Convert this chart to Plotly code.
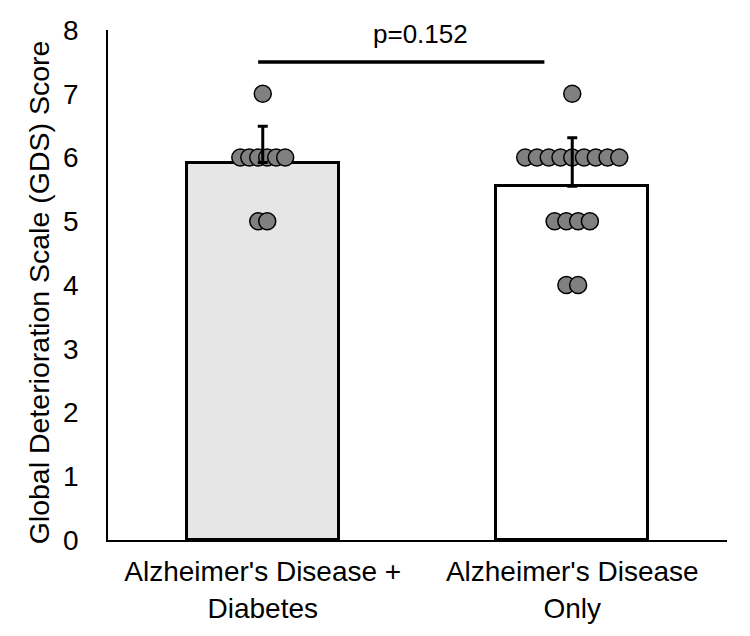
import plotly.graph_objects as go

# ---- data ----
categories = ["Alzheimer's Disease +<br>Diabetes", "Alzheimer's Disease<br>Only"]
bar_means = [5.92, 5.55]
bar_sd = [0.57, 0.76]
points_ad_diabetes = [7, 6, 6, 6, 6, 6, 6, 5, 5]
points_ad_only = [7, 6, 6, 6, 6, 6, 6, 6, 6, 6, 5, 5, 5, 5, 4, 4]
p_label = "p=0.152"
y_ticks = [0, 1, 2, 3, 4, 5, 6, 7, 8]

FONT = "Liberation Sans, Arial, sans-serif"


def swarm(values, center, step):
    """Spread equal values side by side, centred on the category."""
    xs, ys = [], []
    for v in sorted(set(values), reverse=True):
        n = values.count(v)
        for i in range(n):
            xs.append(center + (i - (n - 1) / 2) * step)
            ys.append(v)
    return xs, ys


x1, y1 = swarm(points_ad_diabetes, 0, 0.029)
x2, y2 = swarm(points_ad_only, 1, 0.038)

fig = go.Figure()
fig.add_trace(go.Bar(
    x=[0, 1], y=bar_means, width=0.49,
    marker=dict(color=["#E7E6E6", "#FFFFFF"], line=dict(color="black", width=3)),
    hoverinfo="skip", showlegend=False,
))
fig.add_trace(go.Scatter(
    x=x1 + x2, y=y1 + y2, mode="markers",
    marker=dict(size=17, color="#808080", line=dict(color="black", width=1.5)),
    showlegend=False,
))
fig.add_trace(go.Scatter(
    x=[0, 1], y=bar_means, mode="markers",
    marker=dict(size=1, opacity=0),
    error_y=dict(type="data", symmetric=False, array=bar_sd,
                 arrayminus=[0, 0], color="black", thickness=3, width=5),
    showlegend=False,
))

# significance bracket
fig.add_shape(type="line", x0=-0.015, x1=0.91, y0=7.5, y1=7.5,
              xref="x", yref="y", line=dict(color="black", width=3.5))
fig.add_annotation(x=0.51, y=7.93, xref="x", yref="y", text=p_label,
                   showarrow=False, font=dict(family=FONT, size=26, color="black"))

fig.add_annotation(x=-0.141, y=0.485, xref="paper", yref="paper",
                   text="Global Deterioration Scale (GDS) Score", textangle=-90,
                   showarrow=False, font=dict(family=FONT, size=28.5, color="black"))

fig.update_layout(
    width=750, height=636,
    margin=dict(l=108, r=23, t=30, b=94),
    plot_bgcolor="white", paper_bgcolor="white",
    font=dict(family=FONT, color="black"),
    bargap=0,
)
fig.update_xaxes(
    range=[-0.5, 1.5], tickmode="array", tickvals=[0, 1], ticktext=categories,
    showline=True, linecolor="black", linewidth=1.5, showgrid=False,
    zeroline=False, ticks="", tickfont=dict(family=FONT, size=28, color="black"),
    ticklabelstandoff=6,
)
fig.update_yaxes(
    range=[0, 8], tickvals=y_ticks, showline=True, linecolor="black",
    linewidth=1.5, showgrid=False, zeroline=False, ticks="",
    tickfont=dict(family=FONT, size=28, color="black"), ticklabelstandoff=22,
)

fig.write_html("out.html")
